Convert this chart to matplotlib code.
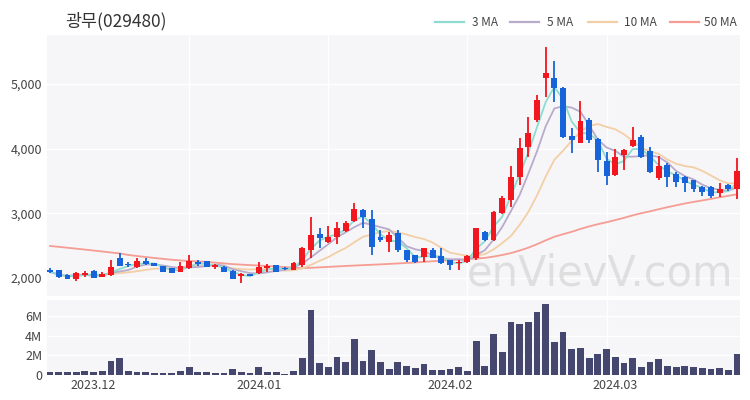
import matplotlib
matplotlib.use("Agg")
import matplotlib.pyplot as plt
from matplotlib.lines import Line2D
import numpy as np
import pandas as pd

plt.rcParams['font.family'] = ['Noto Sans CJK KR', 'DejaVu Sans']

title = "광무(029480)"
month_ticks = [5, 24, 46, 65]
month_labels = ["2023.12", "2024.01", "2024.02", "2024.03"]

opens = [2130, 2120, 2045, 1990, 2050, 2110, 2020, 2040, 2310, 2215,
         2165, 2270, 2225, 2185, 2150, 2100, 2150, 2250, 2265, 2175,
         2175, 2115, 2030, 2060, 2070, 2150, 2200, 2160, 2125, 2200,
         2430, 2675, 2560, 2640, 2725, 2880, 3050, 2910, 2640, 2560,
         2690, 2430, 2355, 2330, 2435, 2340, 2280, 2225, 2250, 2305,
         2715, 2590, 3000, 3200, 3560, 4025, 4440, 5090, 5090, 4940,
         4200, 4090, 4440, 4150, 3810, 3590, 3900, 4040, 4180, 3960,
         3550, 3750, 3610, 3560, 3510, 3410, 3410, 3310, 3440, 3380]
highs = [2155, 2130, 2055, 2090, 2110, 2120, 2095, 2280, 2390, 2250,
         2310, 2305, 2235, 2190, 2155, 2250, 2355, 2280, 2270, 2210,
         2180, 2120, 2070, 2065, 2250, 2215, 2205, 2165, 2240, 2485,
         2940, 2770, 2810, 2860, 2880, 3155, 3060, 3050, 2740, 2715,
         2740, 2440, 2360, 2470, 2470, 2460, 2285, 2280, 2350, 2780,
         2720, 3030, 3270, 3730, 4160, 4490, 4830, 5570, 5350, 4950,
         4320, 4740, 4470, 4160, 3950, 4000, 3990, 4330, 4210, 4020,
         3890, 3780, 3640, 3570, 3520, 3420, 3420, 3470, 3450, 3850]
lows = [2080, 2000, 1985, 1950, 2020, 2000, 2010, 2030, 2180, 2165,
        2160, 2205, 2180, 2095, 2075, 2095, 2145, 2185, 2170, 2135,
        2095, 1985, 1920, 2025, 2065, 2100, 2095, 2130, 2120, 2175,
        2305, 2460, 2535, 2520, 2715, 2870, 2770, 2355, 2560, 2405,
        2405, 2250, 2225, 2250, 2310, 2220, 2125, 2125, 2225, 2280,
        2580, 2580, 2990, 3100, 3440, 3870, 4410, 4800, 4720, 4160,
        3930, 4080, 4080, 3640, 3440, 3580, 3670, 4020, 3860, 3630,
        3520, 3410, 3410, 3330, 3330, 3270, 3240, 3250, 3340, 3220]
closes = [2095, 2010, 1990, 2080, 2080, 2005, 2060, 2175, 2185, 2195,
          2270, 2215, 2185, 2100, 2080, 2185, 2270, 2215, 2175, 2200,
          2100, 1990, 2060, 2030, 2175, 2185, 2100, 2135, 2235, 2460,
          2665, 2615, 2640, 2770, 2845, 3065, 2950, 2485, 2590, 2665,
          2435, 2280, 2250, 2460, 2315, 2225, 2200, 2250, 2340, 2770,
          2590, 3020, 3230, 3560, 4010, 4240, 4750, 5170, 4940, 4180,
          4130, 4430, 4130, 3820, 3580, 3870, 3980, 4130, 3870, 3640,
          3730, 3560, 3480, 3470, 3380, 3330, 3270, 3380, 3380, 3650]
volumes_m = [0.27, 0.30, 0.30, 0.30, 0.45, 0.30, 0.40, 1.42, 1.76, 0.45,
             0.35, 0.27, 0.20, 0.20, 0.20, 0.40, 0.78, 0.30, 0.30, 0.25,
             0.25, 0.64, 0.30, 0.17, 0.78, 0.30, 0.27, 0.14, 0.40, 1.69,
             6.60, 1.18, 0.81, 1.83, 1.35, 3.62, 1.46, 2.54, 1.28, 0.61,
             1.35, 0.91, 0.74, 1.15, 0.47, 0.54, 0.57, 0.81, 0.44, 3.49,
             0.91, 4.13, 2.30, 5.41, 5.14, 5.35, 6.36, 7.21, 3.32, 4.40,
             2.60, 2.70, 1.69, 2.13, 2.60, 1.80, 1.22, 1.69, 0.81, 1.28,
             1.58, 0.88, 0.81, 0.95, 0.78, 0.68, 0.61, 0.74, 0.47, 2.13]
# 50-day average for the first 49 sessions (needs history before the window)
ma50_early = [2495, 2482, 2468, 2454, 2440, 2425, 2410, 2395, 2380, 2357,
              2340, 2325, 2310, 2296, 2282, 2272, 2263, 2256, 2250, 2238,
              2226, 2215, 2207, 2200, 2193, 2185, 2177, 2170, 2160, 2152,
              2158, 2165, 2172, 2179, 2186, 2193, 2199, 2205, 2211, 2218,
              2225, 2233, 2241, 2250, 2259, 2268, 2277, 2285, 2293]

ma_labels = ["3 MA", "5 MA", "10 MA", "50 MA"]
ma_colors = ["#8ddbd1", "#b9abcb", "#f3cfa5", "#f59d93"]
up_color = "#f2161e"
down_color = "#1764da"
vol_color = "#46476e"
bg_color = "#f6f6f8"

df = pd.DataFrame({"o": opens, "h": highs, "l": lows, "c": closes, "v": volumes_m})
x = np.arange(len(df))
cs = df["c"]
ma3 = cs.rolling(3, min_periods=1).mean()
ma5 = cs.rolling(5, min_periods=1).mean()
ma10 = cs.rolling(10, min_periods=1).mean()
ma50 = cs.rolling(50).mean()
ma50.iloc[:len(ma50_early)] = ma50_early

fig = plt.figure(figsize=(7.5, 4.0), dpi=100)
ax = fig.add_axes([0.0627, 0.26, 0.924, 0.6525])
axv = fig.add_axes([0.0627, 0.06, 0.924, 0.19])

for a in (ax, axv):
    a.set_facecolor(bg_color)
    for s in a.spines.values():
        s.set_visible(False)
    a.set_xlim(-0.35, 79.35)
    a.tick_params(length=0, labelsize=9, colors="#444444")
    for gx in [16, 32, 48, 64]:
        a.axvline(gx, color="white", lw=1.0, zorder=0)

ax.set_ylim(1722, 5757)
ax.set_yticks([2000, 3000, 4000, 5000])
ax.set_yticklabels(["2,000", "3,000", "4,000", "5,000"])
ax.grid(axis="y", color="white", lw=1.0, zorder=0)
ax.set_axisbelow(True)
ax.set_xticks([])

ax.text(0.798, 0.085, "enVievV.com", transform=ax.transAxes, ha="center", va="center",
        fontsize=30, color="#cccccc", alpha=0.55, family=["DejaVu Sans"], zorder=1)

for ma, col in zip([ma50, ma10, ma5, ma3], ma_colors[::-1]):
    ax.plot(x, ma, color=col, lw=1.3, zorder=2)

up = df["c"] >= df["o"]
colors = np.where(up, up_color, down_color)
bottoms = np.minimum(df["o"], df["c"])
heights = np.maximum(np.abs(df["c"] - df["o"]), 12)
ax.vlines(x, df["l"], df["h"], colors=colors, lw=1.3, zorder=3)
ax.bar(x, heights, bottom=bottoms, width=0.68, color=colors, zorder=4)

axv.bar(x, df["v"], width=0.78, color=vol_color, zorder=3)
axv.set_ylim(-0.1, 7.63)
axv.set_yticks([0, 2, 4, 6])
axv.set_yticklabels(["0", "2M", "4M", "6M"])
axv.grid(axis="y", color="white", lw=1.0, zorder=0)
axv.set_axisbelow(True)
axv.set_xticks(month_ticks)
axv.set_xticklabels(month_labels)
axv.tick_params(axis="x", pad=2)

fig.text(0.087, 0.948, title, fontsize=12.5, color="#333333", va="center", ha="left")

leg_y = 0.945
leg_x = [(435, 472), (510, 547), (588, 624), (670, 704)]
for (lx, tx), lab, col in zip(leg_x, ma_labels, ma_colors):
    fig.add_artist(Line2D([lx / 750, (lx + 29) / 750], [leg_y, leg_y], color=col, lw=1.6))
    fig.text(tx / 750, leg_y, lab, fontsize=8.5, color="#444444", va="center", ha="left")

fig.savefig("out.png", dpi=100, facecolor="white")
